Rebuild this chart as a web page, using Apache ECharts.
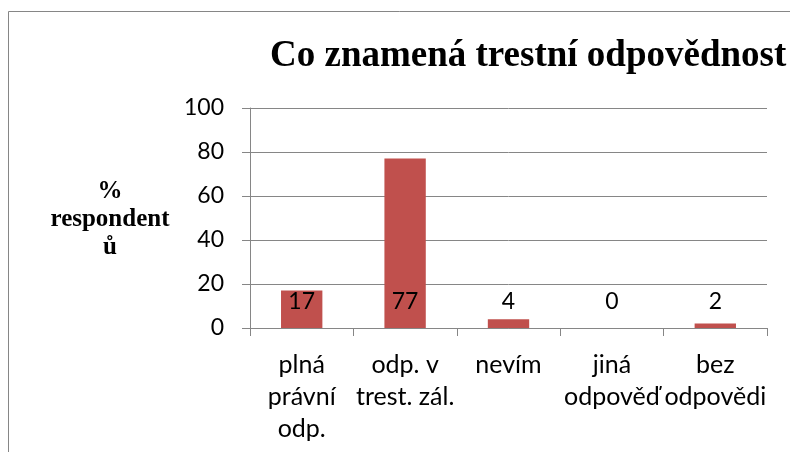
<!DOCTYPE html>
<html style="height: 100%">

<head>
  <meta charset="utf-8">
  <title>Co znamená trestní odpovědnost</title>
  <style type="text/css">
    body {
      margin: 0;
      background: #ffffff;
    }
  </style>
</head>

<body style="height: 100%; margin: 0;">
  <div id="container" style="width: 790px; height: 452px"></div>

  <script type="text/javascript" src="https://cdn.jsdelivr.net/npm/echarts@6.0.0/dist/echarts.min.js"></script>
  <script type="text/javascript">
    // data
    var categories = ['plná\nprávní\nodp.', 'odp. v\ntrest. zál.', 'nevím', 'jiná\nodpověď', 'bez\nodpovědi'];
    var percentValues = [17, 77, 4, 0, 2];
    var yTicks = { min: 0, max: 100, interval: 20 };

    var titleText = 'Co znamená trestní odpovědnost';
    var yAxisTitle = '%\nrespondent\nů';

    var dom = document.getElementById('container');
    var chart = echarts.init(dom);

    var gridColor = '#868686';
    var labelFont = 'Lato, "Open Sans", sans-serif';

    var option = {
      backgroundColor: '#ffffff',
      animation: false,
      title: {
        text: titleText,
        left: 265,
        top: 33,
        textStyle: {
          fontFamily: '"Liberation Serif", "Times New Roman", serif',
          fontWeight: 'bold',
          fontSize: 37,
          color: '#000000'
        }
      },
      graphic: [
        {
          type: 'rect',
          silent: true,
          shape: { x: 8.5, y: 11.5, width: 900, height: 600 },
          style: { fill: 'none', stroke: gridColor, lineWidth: 1 }
        },
        {
          type: 'text',
          silent: true,
          x: 110,
          y: 178,
          style: {
            text: yAxisTitle,
            textAlign: 'center',
            textVerticalAlign: 'top',
            fontFamily: '"Liberation Serif", "Times New Roman", serif',
            fontWeight: 'bold',
            fontSize: 25,
            lineHeight: 28,
            fill: '#000000'
          }
        }
      ],
      grid: {
        left: 250,
        right: 23,
        top: 108,
        bottom: 124,
        containLabel: false
      },
      xAxis: {
        type: 'category',
        data: categories,
        axisLine: { lineStyle: { color: gridColor, width: 1 } },
        axisTick: { show: true, length: 8, lineStyle: { color: gridColor } },
        axisLabel: {
          interval: 0,
          margin: 21,
          color: '#000000',
          fontFamily: labelFont,
          fontSize: 25,
          lineHeight: 32
        }
      },
      yAxis: {
        type: 'value',
        min: yTicks.min,
        max: yTicks.max,
        interval: yTicks.interval,
        axisLine: { show: true, lineStyle: { color: gridColor, width: 1 } },
        axisTick: { show: true, length: 8, lineStyle: { color: gridColor } },
        splitLine: { lineStyle: { color: gridColor, width: 1 } },
        axisLabel: {
          margin: 26,
          color: '#000000',
          fontFamily: labelFont,
          fontSize: 23
        }
      },
      series: [
        {
          type: 'bar',
          data: percentValues,
          barWidth: '40%',
          itemStyle: { color: '#C0504D' },
          label: {
            show: true,
            position: 'insideBottom',
            distance: 11,
            color: '#000000',
            fontFamily: labelFont,
            fontSize: 23,
            lineHeight: 30
          }
        }
      ]
    };

    chart.setOption(option);
  </script>
</body>

</html>
